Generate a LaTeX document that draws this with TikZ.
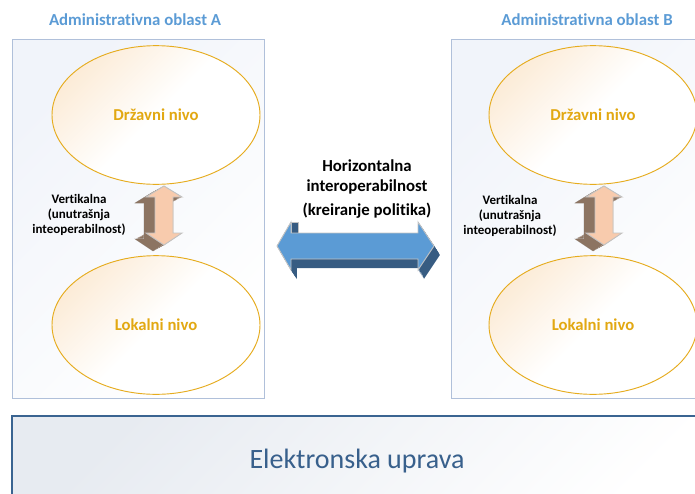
\documentclass[tikz,border=0pt]{standalone}
\usepackage{fontspec}
\setmainfont{Carlito}[Ligatures={NoCommon,NoContextual}]
\usetikzlibrary{shapes.geometric}
\definecolor{titleblue}{RGB}{91,155,213}
\definecolor{gold}{RGB}{226,168,18}
\definecolor{ellline}{RGB}{230,172,30}
\definecolor{ellfill}{RGB}{252,236,216}
\definecolor{peach}{RGB}{248,203,173}
\definecolor{brownx}{RGB}{140,116,98}
\definecolor{arrowblue}{RGB}{91,155,213}
\definecolor{arrowdark}{RGB}{55,92,130}
\definecolor{boxline}{RGB}{176,192,218}
\definecolor{boxfill}{RGB}{241,244,250}
\definecolor{eline}{RGB}{58,100,145}
\definecolor{efill}{RGB}{231,235,241}
\definecolor{etext}{RGB}{56,96,140}
\definecolor{outl}{RGB}{195,195,195}
\newcommand\myvarrow[2]{(#1,#2) -- ++(18,11) -- ++(-9,0) -- ++(0,36) -- ++(9,0) -- ++(-18,12) -- ++(-18,-12) -- ++(9,0) -- ++(0,-36) -- ++(-9,0) -- cycle}
\newcommand\myharrow[2]{(#1,#2) -- ++(14,-24) -- ++(0,11) -- ++(127,0) -- ++(0,-11) -- ++(16,24) -- ++(-16,24) -- ++(0,-11) -- ++(-127,0) -- ++(0,11) -- cycle}
\tikzset{
  areabox/.style={draw=boxline, line width=0.6pt, top color=boxfill, bottom color=white, shading angle=45},
  lvl/.style={ellipse, draw=ellline, line width=0.7pt, top color=ellfill, bottom color=white, middle color=white, shading angle=45,
    minimum width=156pt, minimum height=104pt, inner sep=0pt, text=gold, font=\fontsize{12.5}{15}\selectfont\bfseries},
  areatitle/.style={text=titleblue, font=\fontsize{12.6}{15}\selectfont\bfseries, inner sep=0pt},
  vlabel/.style={align=center, font=\fontsize{9.75}{11}\selectfont\bfseries, inner sep=0pt},
}
\begin{document}
\begin{tikzpicture}[x=0.75pt, y=-0.75pt]
\useasboundingbox (0,0) rectangle (695,493);
\clip (0,0) rectangle (695,493);
% area boxes
\path[areabox] (12,39) rectangle (264,398);
\path[areabox] (451,39) rectangle (720,398);
% bottom box
\path[draw=eline, line width=0.9pt, top color=efill, bottom color=white, shading angle=45] (12,416) rectangle (720,520);
\node[text=etext, font=\fontsize{21}{25}\selectfont, inner sep=0pt] (eu) at (357,461) {Elektronska uprava};
% titles
\node[areatitle] (tA) at (135,20) {Administrativna oblast A};
\node[areatitle] (tB) at (587,20) {Administrativna oblast B};
% ellipses
\node[lvl] (dA) at (156,115) {Državni nivo};
\node[lvl] (lA) at (156,325) {Lokalni nivo};
\node[lvl] (dB) at (593,115) {Državni nivo};
\node[lvl] (lB) at (593,325) {Lokalni nivo};
% vertical arrows
\foreach \i in {0,...,11} { \fill[brownx] \myvarrow{164-\i}{186+0.55*\i}; \fill[brownx] \myvarrow{604-\i}{186+0.55*\i}; }
\draw[outl, line width=0.4pt] \myvarrow{153}{192};
\draw[outl, line width=0.4pt] \myvarrow{593}{192};
\fill[brownx] \myvarrow{153}{192};
\fill[brownx] \myvarrow{593}{192};
\draw[outl, fill=peach, line width=0.7pt] \myvarrow{164}{186};
\draw[outl, fill=peach, line width=0.7pt] \myvarrow{604}{186};
% vertical labels
\node[vlabel] (vA) at (79,215) {Vertikalna\\(unutrašnja\\inteoperabilnost)};
\node[vlabel] (vB) at (510,216) {Vertikalna\\(unutrašnja\\inteoperabilnost)};
% horizontal arrow
\foreach \i in {0,...,9} { \fill[arrowdark] \myharrow{277+0.65*\i}{246+\i}; }
\draw[outl, line width=0.6pt, fill=arrowdark] (291,222) rectangle (298,233);
\draw[outl, fill=arrowblue, line width=0.7pt] \myharrow{277}{246};
% horizontal label
\node[align=center, font=\fontsize{12.6}{15}\selectfont\bfseries, inner sep=0pt] (hl) at (367,189) {Horizontalna\\interoperabilnost\\[3pt](kreiranje politika)};
\end{tikzpicture}
\end{document}
